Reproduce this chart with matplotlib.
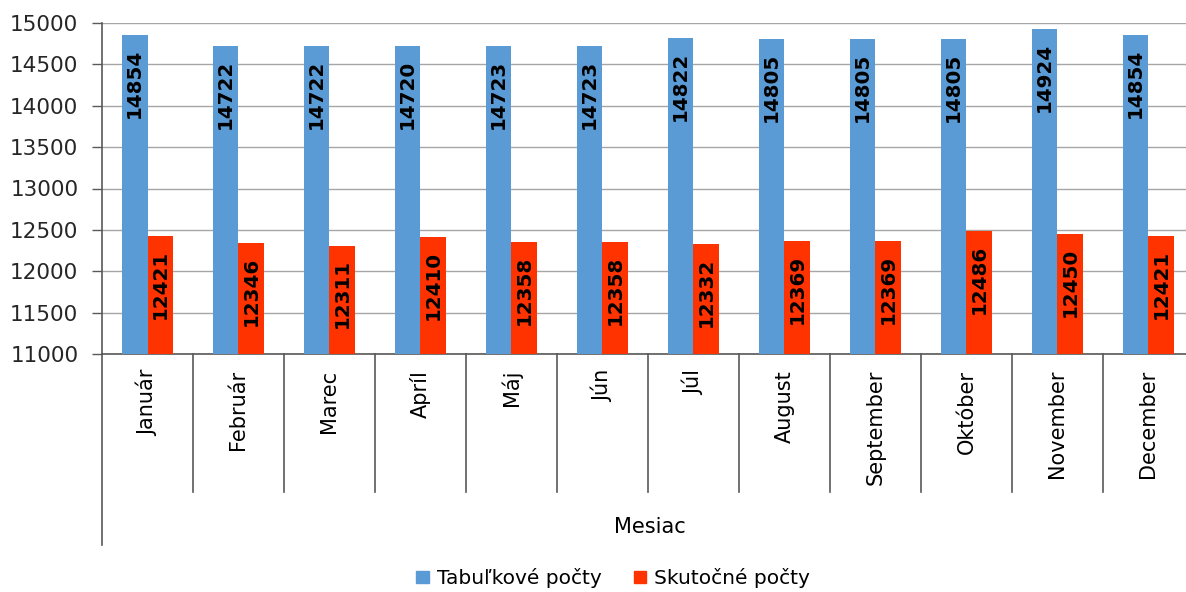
import matplotlib
matplotlib.use('Agg')
import matplotlib.pyplot as plt
import matplotlib.transforms as mtransforms
from matplotlib.patches import Patch
import numpy as np

# data
months = ['Január', 'Február', 'Marec', 'Apríl', 'Máj', 'Jún', 'Júl',
          'August', 'September', 'Október', 'November', 'December']
tabulkove = [14854, 14722, 14722, 14720, 14723, 14723, 14822,
             14805, 14805, 14805, 14924, 14854]
skutocne = [12421, 12346, 12311, 12410, 12358, 12358, 12332,
            12369, 12369, 12486, 12450, 12421]

blue = '#5B9BD5'
red = '#FF3300'
axis_col = '#595959'

W, H = 1186, 592
fig = plt.figure(figsize=(W / 100, H / 100), dpi=100)
ax = fig.add_axes([102 / W, (H - 354) / H, 1092 / W, 331 / H])

x = np.arange(len(months))
bw = 0.285
b1 = ax.bar(x - bw / 2, tabulkove, bw, color=blue, zorder=3)
b2 = ax.bar(x + bw / 2, skutocne, bw, color=red, zorder=3)

ax.set_ylim(11000, 15000)
ax.set_xlim(-0.5, len(months) - 0.5)
ax.set_yticks(np.arange(11000, 15001, 500))
ax.yaxis.grid(True, color='#A6A6A6', lw=1.0, zorder=0)
ax.set_axisbelow(True)
ax.tick_params(axis='y', length=7, width=1, color=axis_col, pad=10,
               labelsize=15.5, labelcolor='#262626')
ax.tick_params(axis='x', bottom=False, labelbottom=False)
for s in ['top', 'right']:
    ax.spines[s].set_visible(False)
for s in ['left', 'bottom']:
    ax.spines[s].set_color(axis_col)
    ax.spines[s].set_linewidth(1.2)

# value labels inside the bar ends
for bars in (b1, b2):
    for r in bars:
        ax.annotate(str(int(r.get_height())),
                    (r.get_x() + r.get_width() / 2, r.get_height()),
                    xytext=(0, -10), textcoords='offset points',
                    rotation=90, ha='center', va='top',
                    fontsize=14.3, fontweight='bold', color='black', zorder=4)

# category labels and separators below the axis
trans = mtransforms.blended_transform_factory(ax.transData, ax.transAxes)
for i, m in enumerate(months):
    ax.text(i, -16 / 331, m, transform=trans, rotation=90, ha='center',
            va='top', fontsize=15, color='black')
for i in range(len(months) - 1):
    ax.plot([i + 0.5, i + 0.5], [0, -138 / 331], transform=trans,
            color=axis_col, lw=1.2, clip_on=False)
ax.plot([-0.5, -0.5], [0, -191 / 331], transform=trans,
        color=axis_col, lw=1.2, clip_on=False)

fig.text(650 / W, 1 - 527 / H, 'Mesiac', ha='center', va='center',
         fontsize=15, color='black')

handles = [Patch(color=blue, label='Tabuľkové počty'),
           Patch(color=red, label='Skutočné počty')]
fig.legend(handles=handles, loc='center', bbox_to_anchor=(613 / W, 1 - 578 / H),
           ncol=2, frameon=False, fontsize=14.5, handlelength=0.6,
           handleheight=0.6, handletextpad=0.4, columnspacing=1.6)

fig.savefig('out.png', dpi=100)
